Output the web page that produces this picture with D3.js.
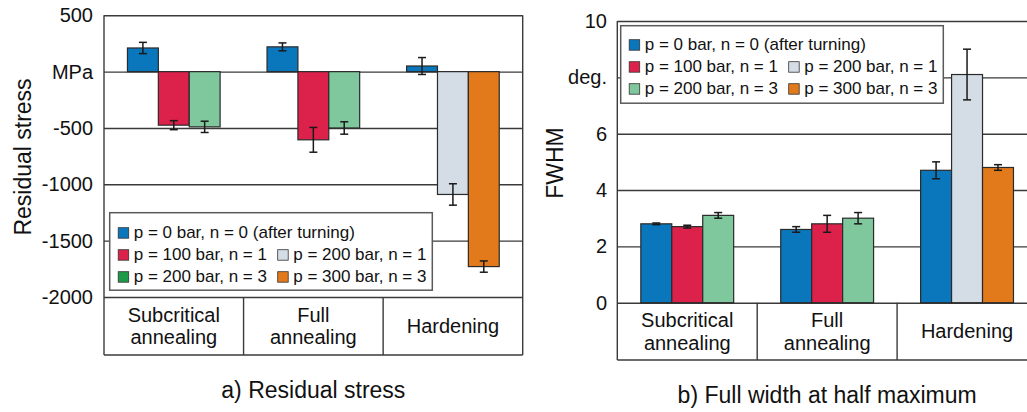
<!DOCTYPE html>
<html>
<head>
<meta charset="utf-8">
<script src="https://cdn.jsdelivr.net/npm/d3@7"></script>
<style>
  body { margin: 0; background: #fff; }
  svg { font-family: "Liberation Sans", Arial, sans-serif; display: block; }
</style>
</head>
<body>
<div id="viz"></div>
<script>
// categories + series
const categories = [['Subcritical', 'annealing'], ['Full', 'annealing'], ['Hardening']];
const seriesLabels = [
  'p = 0 bar, n = 0 (after turning)',
  'p = 100 bar, n = 1',
  'p = 200 bar, n = 1',
  'p = 200 bar, n = 3',
  'p = 300 bar, n = 3',
];
const seriesColors = ['#0a77bd', '#dc214a', '#d4dce5', '#7fc79c', '#e27a1c'];
// left legend shows a darker green swatch for n = 3
const legendColorsA = ['#0a77bd', '#dc214a', '#d4dce5', '#1d9a48', '#e27a1c'];
// which series sits in each category (3 bars per group)
const groupSeries = [[0, 1, 3], [0, 1, 3], [0, 2, 4]];

// a) residual stress, MPa
const stressValues = [[210, -475, -490], [220, -605, -500], [50, -1090, -1730]];
const stressErrors = [[50, 40, 50], [35, 110, 55], [75, 95, 50]];
const stressTicks = [500, 0, -500, -1000, -1500, -2000];
const stressTickLabels = ['500', 'MPa', '-500', '-1000', '-1500', '-2000'];

// b) FWHM, deg.
const fwhmValues = [[2.8, 2.7, 3.1], [2.6, 2.8, 3.0], [4.7, 8.1, 4.8]];
const fwhmErrors = [[0.03, 0.05, 0.1], [0.1, 0.3, 0.2], [0.3, 0.9, 0.1]];
const fwhmTicks = [10, 8, 6, 4, 2, 0];
const fwhmTickLabels = ['10', 'deg.', '6', '4', '2', '0'];

const svg = d3.select('#viz')
  .append('svg')
  .attr('width', 1027)
  .attr('height', 412)

const lineColor = '#3a3a3a'

const drawChart = (cfg) => {
  const f = cfg.frame
  const g = svg.append('g')

  const y = d3.scaleLinear().domain(cfg.domain).range([f.bottom, f.top])
  const x0 = d3.scaleBand().domain(d3.range(categories.length)).range([f.left, f.right])
  const x1 = d3.scaleBand().domain([0, 1, 2]).range([0, x0.bandwidth()]).paddingOuter(0.76)

  // gridlines
  g.append('g')
    .attr('transform', `translate(${f.left},0)`)
    .call(d3.axisLeft(y).tickValues(cfg.ticks).tickSize(-(f.right - f.left)).tickFormat(''))
    .call(a => a.select('.domain').remove())
    .selectAll('line')
    .attr('stroke', lineColor)
    .attr('stroke-width', 1.4)

  // tick labels
  g.append('g')
    .attr('transform', `translate(${cfg.tickX},0)`)
    .call(d3.axisLeft(y).tickValues(cfg.ticks).tickSize(0).tickPadding(0)
      .tickFormat((d, i) => cfg.tickLabels[i]))
    .call(a => a.select('.domain').remove())
    .selectAll('text')
    .attr('font-family', '"Liberation Sans", Arial, sans-serif')
    .attr('font-size', 20)
    .attr('fill', '#111')

  // frame + category cells
  const frame = g.append('g').attr('stroke', lineColor).attr('stroke-width', 1.4)
  frame.append('line').attr('x1', f.left).attr('x2', f.left).attr('y1', f.top).attr('y2', f.labelBottom)
  frame.append('line').attr('x1', f.right).attr('x2', f.right).attr('y1', f.top).attr('y2', f.labelBottom)
  frame.append('line').attr('x1', f.left).attr('x2', f.right).attr('y1', f.labelBottom).attr('y2', f.labelBottom)
  frame.selectAll('.div').data(d3.range(1, categories.length)).join('line')
    .attr('x1', d => x0(d)).attr('x2', d => x0(d))
    .attr('y1', f.bottom).attr('y2', f.labelBottom)

  const cellMid = (f.bottom + f.labelBottom) / 2
  g.selectAll('.cat').data(categories).join('text')
    .attr('text-anchor', 'middle')
    .attr('font-size', 20)
    .attr('fill', '#111')
    .each(function (lines, i) {
      d3.select(this).selectAll('tspan').data(lines).join('tspan')
        .attr('x', x0(i) + x0.bandwidth() / 2)
        .attr('y', (d, k) => cellMid + 7 + (k - (lines.length - 1) / 2) * 22.5)
        .text(d => d)
    })

  // bars
  const bars = []
  cfg.values.forEach((row, gi) => row.forEach((v, j) => {
    bars.push({ gi, j, v, err: cfg.errors[gi][j], s: groupSeries[gi][j] })
  }))

  g.selectAll('.bar').data(bars).join('rect')
    .attr('x', d => x0(d.gi) + x1(d.j))
    .attr('width', x1.bandwidth())
    .attr('y', d => y(Math.max(d.v, 0)))
    .attr('height', d => Math.abs(y(d.v) - y(0)))
    .attr('fill', d => seriesColors[d.s])
    .attr('stroke', '#2a2a2a')
    .attr('stroke-width', 1.2)

  // error bars
  const eb = g.selectAll('.err').data(bars).join('g')
    .attr('transform', d => `translate(${x0(d.gi) + x1(d.j) + x1.bandwidth() / 2},0)`)
    .attr('stroke', '#1a1a1a')
    .attr('stroke-width', 1.5)
  eb.append('line').attr('y1', d => y(d.v - d.err)).attr('y2', d => y(d.v + d.err))
  eb.append('line').attr('x1', -4).attr('x2', 4).attr('y1', d => y(d.v - d.err)).attr('y2', d => y(d.v - d.err))
  eb.append('line').attr('x1', -4).attr('x2', 4).attr('y1', d => y(d.v + d.err)).attr('y2', d => y(d.v + d.err))

  // legend
  const L = cfg.legend
  const lg = g.append('g').attr('transform', `translate(${L.x},${L.y})`)
  lg.append('rect').attr('width', 322.6).attr('height', 77.5)
    .attr('fill', '#fff').attr('stroke', '#5a5a5a').attr('stroke-width', 1.5)
  const slots = [[0, 0], [1, 0], [1, 1], [2, 0], [2, 1]]
  const item = lg.selectAll('.item').data(seriesLabels).join('g')
    .attr('transform', (d, i) => `translate(${8.5 + slots[i][1] * 159.5},${L.row0 + slots[i][0] * 22})`)
  item.append('rect')
    .attr('x', 0).attr('y', -4.5).attr('width', 10.5).attr('height', 10.5)
    .attr('fill', (d, i) => L.colors[i])
    .attr('stroke', '#333').attr('stroke-width', 0.8)
  item.append('text')
    .attr('x', 15.5).attr('y', 6.2)
    .attr('font-size', 17)
    .attr('fill', '#111')
    .text(d => d)

  // axis title
  g.append('text')
    .attr('transform', `translate(${cfg.yTitle.x},${cfg.yTitle.y}) rotate(-90)`)
    .attr('text-anchor', 'middle')
    .attr('font-size', 23)
    .attr('fill', '#111')
    .text(cfg.yTitle.text)

  // caption
  g.append('text')
    .attr('x', (f.left + f.right) / 2)
    .attr('y', cfg.captionY)
    .attr('text-anchor', 'middle')
    .attr('font-size', 23)
    .attr('fill', '#111')
    .text(cfg.caption)
}

drawChart({
  frame: { left: 104, right: 522.7, top: 15.3, bottom: 297, labelBottom: 355 },
  domain: [-2000, 500],
  ticks: stressTicks,
  tickLabels: stressTickLabels,
  tickX: 93,
  values: stressValues,
  errors: stressErrors,
  legend: { x: 109.7, y: 212.7, row0: 19.5, colors: legendColorsA },
  yTitle: { x: 31, y: 157, text: 'Residual stress' },
  caption: 'a) Residual stress',
  captionY: 398,
})

drawChart({
  frame: { left: 617.3, right: 1037, top: 21, bottom: 302.7, labelBottom: 360 },
  domain: [0, 10],
  ticks: fwhmTicks,
  tickLabels: fwhmTickLabels,
  tickX: 607,
  values: fwhmValues,
  errors: fwhmErrors,
  legend: { x: 620.7, y: 25.7, row0: 18.5, colors: seriesColors },
  yTitle: { x: 563, y: 163, text: 'FWHM' },
  caption: 'b) Full width at half maximum',
  captionY: 403,
})
</script>
</body>
</html>
